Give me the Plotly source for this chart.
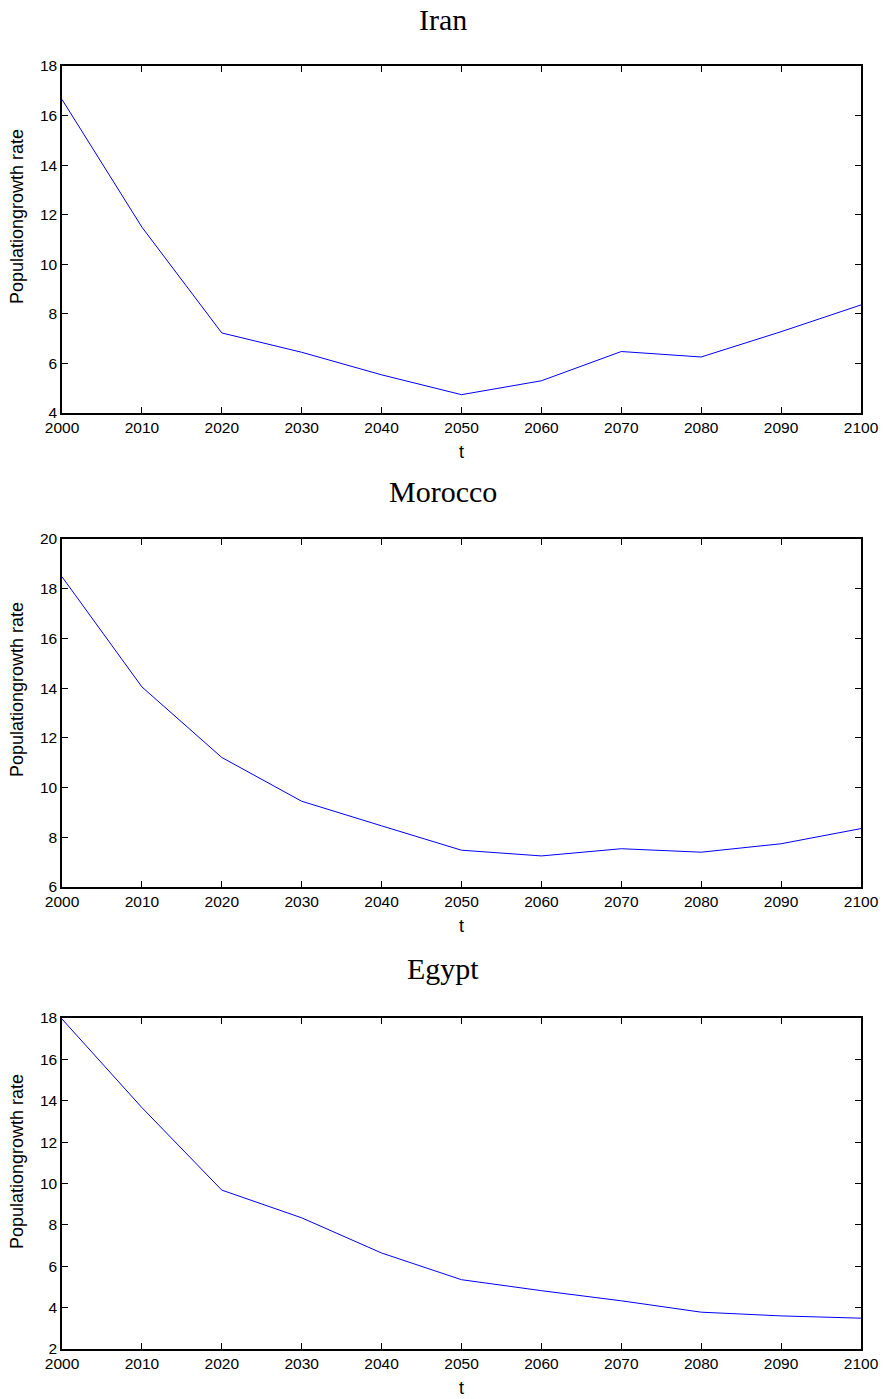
import plotly.graph_objects as go

years = [2000, 2010, 2020, 2030, 2040, 2050, 2060, 2070, 2080, 2090, 2100]
iran = [16.65, 11.5, 7.23, 6.45, 5.54, 4.74, 5.3, 6.48, 6.26, 7.28, 8.36]
morocco = [18.48, 14.05, 11.21, 9.45, 8.46, 7.48, 7.25, 7.54, 7.40, 7.74, 8.35]
egypt = [17.95, 13.67, 9.68, 8.34, 6.64, 5.35, 4.82, 4.33, 3.78, 3.6, 3.49]

countries = ["Iran", "Morocco", "Egypt"]
series = [iran, morocco, egypt]
yranges = [[4, 18], [6, 20], [2, 18]]
ydtick = [2, 2, 2]
xticks = years
ylabel = "Populationgrowth rate"
xlabel = "t"

W, H = 886, 1399
x0, x1 = 62, 861
boxes = [(66, 413), (539, 887), (1018, 1349)]
title_y = [20, 492, 968]
ylab_y = [217, 690, 1162]
xlab_y = [452, 926, 1388]

fig = go.Figure()
layout = dict(width=W, height=H, margin=dict(l=0, r=0, t=0, b=0, autoexpand=False),
              paper_bgcolor="white", plot_bgcolor="white", showlegend=False)

tickfont = dict(family="Liberation Sans, Arial", size=15.5, color="black")
labfont = dict(family="Liberation Sans, Arial", size=18, color="black")

annotations = []
for i, (name, vals) in enumerate(zip(countries, series)):
    xa = "x" if i == 0 else f"x{i+1}"
    ya = "y" if i == 0 else f"y{i+1}"
    fig.add_trace(go.Scatter(x=years, y=vals, mode="lines",
                             line=dict(color="#0000FF", width=1),
                             xaxis=xa, yaxis=ya, hoverinfo="skip"))
    top, bot = boxes[i]
    axkey_x = "xaxis" if i == 0 else f"xaxis{i+1}"
    axkey_y = "yaxis" if i == 0 else f"yaxis{i+1}"
    layout[axkey_x] = dict(domain=[x0 / W, x1 / W], anchor=ya, range=[2000, 2100],
                           tickvals=xticks, ticks="inside", ticklen=6, tickwidth=1,
                           tickcolor="black", showline=True, linecolor="black",
                           linewidth=1.5, mirror="ticks", showgrid=False, zeroline=False,
                           automargin=False, tickfont=tickfont)
    lo, hi = yranges[i]
    layout[axkey_y] = dict(domain=[1 - bot / H, 1 - top / H], anchor=xa, range=[lo, hi],
                           dtick=ydtick[i], tick0=lo, ticks="inside", ticklen=6, tickwidth=1,
                           tickcolor="black", showline=True, linecolor="black",
                           linewidth=1.5, mirror="ticks", showgrid=False, zeroline=False,
                           automargin=False, tickfont=tickfont)
    annotations.append(dict(text=name, x=0.5, y=1 - title_y[i] / H, xref="paper", yref="paper",
                            xanchor="center", yanchor="middle", showarrow=False,
                            font=dict(family="Liberation Serif, DejaVu Serif, serif", size=30, color="black")))
    annotations.append(dict(text=ylabel, x=17 / W, y=1 - ylab_y[i] / H, xref="paper", yref="paper",
                            xanchor="center", yanchor="middle", showarrow=False, textangle=-90,
                            font=labfont))
    annotations.append(dict(text=xlabel, x=(x0 + x1) / 2 / W, y=1 - xlab_y[i] / H, xref="paper",
                            yref="paper", xanchor="center", yanchor="middle", showarrow=False,
                            font=labfont))

layout["annotations"] = annotations
fig.update_layout(**layout)
fig.write_html("out.html")
